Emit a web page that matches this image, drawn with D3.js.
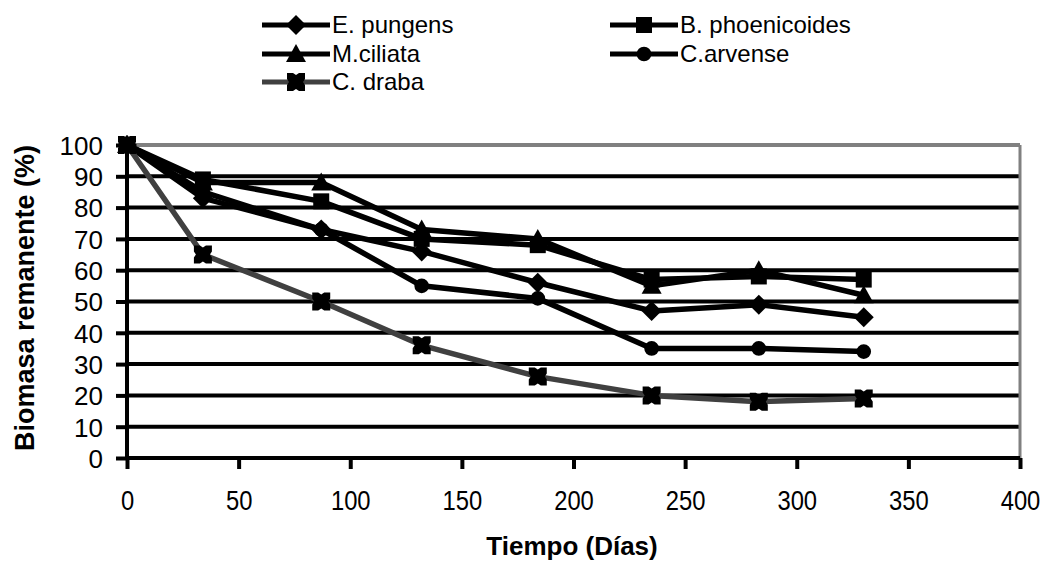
<!DOCTYPE html>
<meta charset="utf-8">
<style>
body { margin: 0; background: white; }
svg { display: block; font-family: "Liberation Sans", Arial, sans-serif; }
.tick text { fill: #000; }
</style>
<svg width="1046" height="561"></svg>
<script src="https://d3js.org/d3.v7.min.js"></script>
<script>
var days = [0, 34, 87, 132, 184, 235, 283, 330];
var ePungens = [100, 83, 73, 66, 56, 47, 49, 45];
var bPhoenicoides = [100, 89, 82, 70, 68, 57, 58, 57];
var mCiliata = [100, 88, 88, 73, 70, 55, 60, 52];
var cArvense = [100, 85, 73, 55, 51, 35, 35, 34];
var cDraba = [100, 65, 50, 36, 26, 20, 18, 19];
var xTicks = [0, 50, 100, 150, 200, 250, 300, 350, 400];
var yTicks = [0, 10, 20, 30, 40, 50, 60, 70, 80, 90, 100];

var series = [
  {name: "E. pungens", values: ePungens, marker: "diamond", color: "#000"},
  {name: "B. phoenicoides", values: bPhoenicoides, marker: "square", color: "#000"},
  {name: "M.ciliata", values: mCiliata, marker: "triangle", color: "#000"},
  {name: "C.arvense", values: cArvense, marker: "circle", color: "#000"},
  {name: "C. draba", values: cDraba, marker: "star", color: "#404040"}
];

var svg = d3.select("svg"),
    margin = {top: 145, right: 26, bottom: 103, left: 127},
    width = 1046 - margin.left - margin.right,
    height = 561 - margin.top - margin.bottom;

var x = d3.scaleLinear().domain([0, 400]).range([0, width]);
var y = d3.scaleLinear().domain([0, 100]).range([height, 0]);

var g = svg.append("g")
    .attr("transform", "translate(" + margin.left + "," + margin.top + ")");

// marker shapes
function markerPath(type) {
  if (type === "diamond") return "M0,-10L10,0L0,10L-10,0Z";
  if (type === "square") return "M-8,-8H8V8H-8Z";
  if (type === "triangle") return "M0,-10L10,8L-10,8Z";
  if (type === "circle") return d3.symbol().type(d3.symbolCircle).size(170)();
  // C. draba: filled square with small notches on each side
  return "M-9,-9L-3,-9L0,-7L3,-9L9,-9L9,-3L7,0L9,3L9,9L3,9L0,7L-3,9L-9,9L-9,3L-7,0L-9,-3Z";
}

// gridlines
g.selectAll(".grid")
    .data(yTicks.filter(function(d) { return d > 0; }))
  .enter().append("line")
    .attr("x1", 0).attr("x2", width)
    .attr("y1", function(d) { return y(d); })
    .attr("y2", function(d) { return y(d); })
    .attr("stroke", function(d) { return d === 100 ? "#808080" : "#000"; })
    .attr("stroke-width", 4);

g.append("line")
    .attr("x1", width).attr("x2", width)
    .attr("y1", 0).attr("y2", height)
    .attr("stroke", "#808080").attr("stroke-width", 3);

// axes
var xAxis = g.append("g")
    .attr("transform", "translate(0," + height + ")")
    .call(d3.axisBottom(x).tickValues(xTicks).tickSize(11).tickPadding(21));
var yAxis = g.append("g")
    .call(d3.axisLeft(y).tickValues(yTicks).tickSize(11).tickPadding(13));

[xAxis, yAxis].forEach(function(a) {
  a.selectAll("path, line").attr("stroke", "#000").attr("stroke-width", 4);
});
xAxis.selectAll("text")
    .style("font-size", "28px")
    .attr("transform", "scale(0.85,1)");
yAxis.selectAll("text").style("font-size", "26px").attr("dy", "0.36em");
xAxis.select(".domain").attr("d", "M0,0H" + width);
yAxis.select(".domain").attr("d", "M0,0V" + height);

// lines
var line = d3.line()
    .x(function(d, i) { return x(days[i]); })
    .y(function(d) { return y(d); });

series.forEach(function(s) {
  g.append("path")
      .datum(s.values)
      .attr("fill", "none")
      .attr("stroke", s.color)
      .attr("stroke-width", 5.5)
      .attr("stroke-linejoin", "round")
      .attr("d", line);
  g.selectAll(null)
      .data(s.values)
    .enter().append("path")
      .attr("transform", function(d, i) { return "translate(" + x(days[i]) + "," + y(d) + ")"; })
      .attr("d", markerPath(s.marker))
      .attr("fill", "#000");
});

// axis titles
svg.append("text")
    .attr("transform", "translate(34,298) rotate(-90)")
    .attr("text-anchor", "middle")
    .style("font-size", "27px")
    .style("font-weight", "bold")
    .text("Biomasa remanente (%)");

svg.append("text")
    .attr("x", 572)
    .attr("y", 555)
    .attr("text-anchor", "middle")
    .style("font-size", "26px")
    .style("font-weight", "bold")
    .text("Tiempo (Días)");

// legend
var legendPos = [[262, 25], [610, 25], [262, 54], [610, 54], [262, 82]];
series.forEach(function(s, i) {
  var lg = svg.append("g")
      .attr("transform", "translate(" + legendPos[i][0] + "," + legendPos[i][1] + ")");
  lg.append("line")
      .attr("x1", 0).attr("x2", 68)
      .attr("stroke", s.color).attr("stroke-width", 5);
  lg.append("path")
      .attr("transform", "translate(34,0)")
      .attr("d", markerPath(s.marker))
      .attr("fill", "#000");
  lg.append("text")
      .attr("x", 70)
      .attr("dy", "0.35em")
      .style("font-size", "24px")
      .text(s.name);
});
</script>
